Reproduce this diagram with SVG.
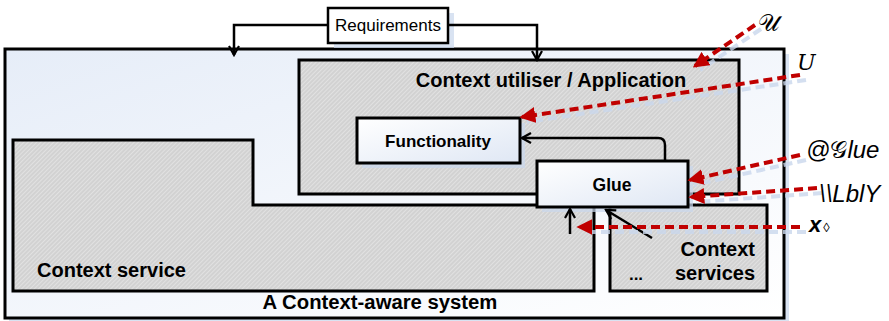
<svg xmlns="http://www.w3.org/2000/svg" width="889" height="321" viewBox="0 0 889 321">
<style>
.box{stroke:#000;stroke-width:3;}
.shadow{fill:#c9d7ec;opacity:0.7;}
.lbl{font-family:"Liberation Sans",Arial,sans-serif;font-weight:bold;fill:#000;}
.conn{fill:none;stroke:#000;stroke-width:2.5;}
.red{fill:none;stroke:#c00000;stroke-width:4;stroke-dasharray:9 5;}
.redsh{fill:none;stroke:#c9d7ec;stroke-width:4;stroke-dasharray:9 5;opacity:0.8;}
.math{font-family:"DejaVu Serif","Liberation Serif",serif;fill:#000;}
</style>
<defs>
<linearGradient id="outerG" x1="0" y1="0" x2="1" y2="1">
<stop offset="0" stop-color="#e6edf8"/>
<stop offset="1" stop-color="#ffffff"/>
</linearGradient>
<linearGradient id="boxG" x1="0" y1="0" x2="1" y2="1">
<stop offset="0" stop-color="#ffffff"/>
<stop offset="1" stop-color="#dfe7f4"/>
</linearGradient>
<pattern id="hatch" width="3" height="3" patternUnits="userSpaceOnUse" patternTransform="rotate(45)">
<rect width="3" height="3" fill="#d2d2d2"/>
<line x1="0" y1="0" x2="0" y2="3" stroke="#ebebeb" stroke-width="1.2"/>
</pattern>
<marker id="chev" viewBox="0 0 12 12" refX="10" refY="6" markerWidth="12" markerHeight="12" markerUnits="userSpaceOnUse" orient="auto">
<path d="M1,1 L10,6 L1,11" fill="none" stroke="#000" stroke-width="2.2"/>
</marker>
<marker id="redtri" viewBox="0 0 12 12" refX="10" refY="6" markerWidth="16" markerHeight="16" markerUnits="userSpaceOnUse" orient="auto">
<path d="M0,0 L12,6 L0,12 Z" fill="#c00000"/>
</marker>
</defs>

<g id="outer">
<rect class="shadow" x="9" y="54" width="780" height="268"/>
<rect class="box" x="5" y="49" width="779" height="269" fill="url(#outerG)"/>
<text class="lbl" x="380" y="309" font-size="20.3" text-anchor="middle">A Context-aware system</text>
</g>

<g id="requirements">
<rect class="shadow" x="334" y="13" width="120" height="35"/>
<rect x="328" y="8" width="120" height="35" fill="#fff" stroke="#000" stroke-width="2.5"/>
<text x="388" y="31" font-family="Liberation Sans,Arial,sans-serif" font-size="17" text-anchor="middle">Requirements</text>
</g>

<g id="context-service">
<path d="M13,140 H253 V205 H594 V291 H13 Z" fill="url(#hatch)" class="box"/>
<text class="lbl" x="37" y="277" font-size="20">Context service</text>
</g>

<g id="application">
<rect x="299" y="60" width="440" height="134" fill="url(#hatch)" class="box"/>
<text class="lbl" x="551" y="87" font-size="20" text-anchor="middle">Context utiliser / Application</text>
</g>

<g id="context-services">
<rect x="610" y="205" width="157" height="86" fill="url(#hatch)" class="box"/>
<text class="lbl" x="755" y="256" font-size="20" text-anchor="end">Context</text>
<text class="lbl" x="755" y="280" font-size="20" text-anchor="end">services</text>
<text class="lbl" x="636" y="280" font-size="17" text-anchor="middle">...</text>
</g>

<g id="functionality">
<rect class="shadow" x="362" y="123" width="163" height="45"/>
<rect x="357" y="118" width="163" height="45" fill="url(#boxG)" class="box"/>
<text class="lbl" x="438" y="147" font-size="17" text-anchor="middle">Functionality</text>
</g>

<g id="glue">
<rect class="shadow" x="542" y="166" width="151" height="46"/>
<rect x="537" y="161" width="151" height="46" fill="url(#boxG)" class="box"/>
<text class="lbl" x="612" y="191" font-size="17.5" text-anchor="middle">Glue</text>
</g>

<g id="connectors">
<path d="M328,25 H234 V55" class="conn" marker-end="url(#chev)"/>
<path d="M448,25 H537 V60" class="conn" marker-end="url(#chev)"/>
<path d="M665,160 V145 Q665,138 658,138 H522" class="conn" marker-end="url(#chev)"/>
<path d="M570,234 V209" class="conn" marker-end="url(#chev)"/>
<path d="M652,238 L606,210" class="conn" marker-end="url(#chev)"/>

<path d="M761,29 L700,70" class="redsh"/>
<path d="M806,80 L527,122" class="redsh"/>
<path d="M806,160 L694,185" class="redsh"/>
<path d="M822,193 L696,202" class="redsh"/>
<path d="M806,232 L584,232" class="redsh"/>

<path d="M755,25 L695,66" class="red" marker-end="url(#redtri)"/>
<path d="M800,75 L522,117" class="red" marker-end="url(#redtri)"/>
<path d="M800,155 L690,180" class="red" marker-end="url(#redtri)"/>
<path d="M817,188 L691,197" class="red" marker-end="url(#redtri)"/>
<path d="M800,227 L579,227" class="red" marker-end="url(#redtri)"/>
</g>

<g id="labels">
<text class="math" x="758" y="31" font-size="24">𝒰</text>
<text class="math" x="797" y="70" font-size="22" font-style="italic">U</text>
<text x="806" y="158" font-family="Liberation Sans,Arial,sans-serif" font-style="italic" font-size="24">@<tspan font-family="DejaVu Serif,serif" font-style="normal">𝒢</tspan>lue</text>
<text x="819" y="202" font-family="Liberation Sans,Arial,sans-serif" font-style="italic" font-size="24">\\LblY</text>
<text x="809" y="232" font-family="Liberation Sans,Arial,sans-serif" font-style="italic" font-weight="bold" font-size="22">x<tspan font-style="normal" font-weight="normal" font-size="13" dx="2">◊</tspan></text>
</g>
</svg>
